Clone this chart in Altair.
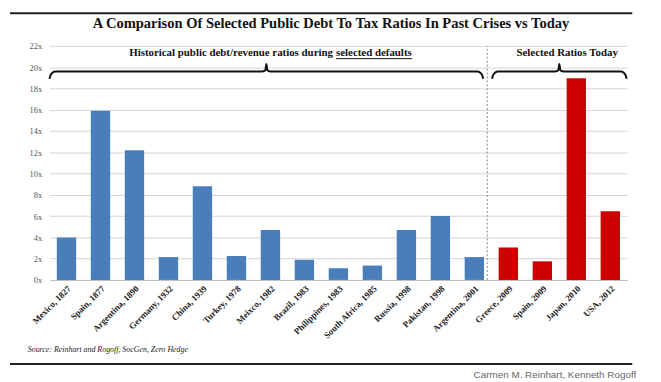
import altair as alt
import pandas as pd

categories = ["Mexico, 1827", "Spain, 1877", "Argentina, 1890", "Germany, 1932",
              "China, 1939", "Turkey, 1978", "Meixco, 1982", "Brazil, 1983",
              "Philippines, 1983", "South Africa, 1985", "Russia, 1998",
              "Pakistan, 1998", "Argentina, 2001", "Greece, 2009", "Spain, 2009",
              "Japan, 2010", "USA, 2012"]
ratios = [4.0, 15.9, 12.2, 2.15, 8.8, 2.25, 4.7, 1.9, 1.1, 1.35, 4.7, 6.0,
          2.15, 3.05, 1.75, 18.95, 6.45]
groups = ["Historical"] * 13 + ["Today"] * 4
y_ticks = [0, 2, 4, 6, 8, 10, 12, 14, 16, 18, 20, 22]

title_text = "A Comparison Of Selected Public Debt To Tax Ratios In Past Crises vs Today"
left_label_a = "Historical public debt/revenue ratios during"
left_label_b = "selected defaults"
right_label = "Selected Ratios Today"
source_text = "Source: Reinhart and Rogoff, SocGen, Zero Hedge"
credit_text = "Carmen M. Reinhart, Kenneth Rogoff"

# bracket spans in category-index units
bracket_spans = [(-0.5, 12.26), (12.52, 16.48)]
divider_at = 12.38

W, H = 585, 237
SERIF = "Liberation Serif"

df = pd.DataFrame({"country": categories, "ratio": ratios, "group": groups})

xq = alt.Scale(domain=[-0.5, 16.5], nice=False, zero=False)
yscale = alt.Scale(domain=[0, 22], nice=False)
y_axis = alt.Axis(title=None, values=y_ticks, labelExpr="datum.value + 'x'",
                  labelFont=SERIF, labelFontSize=8.5, labelColor="#555",
                  ticks=False, domain=False, gridColor="#d4d4d4",
                  labelPadding=8, labelOverlap=False)

bars = alt.Chart(df).mark_bar().encode(
    x=alt.X("country:N", sort=categories,
            scale=alt.Scale(paddingInner=0.43, paddingOuter=0.215),
            axis=alt.Axis(title=None, labelAngle=-45, labelFont=SERIF, labelFontSize=9,
                          labelFontWeight="bold", labelColor="#222", ticks=False,
                          domainColor="#bfbfbf", labelPadding=4, labelOverlap=False)),
    y=alt.Y("ratio:Q", scale=yscale, axis=y_axis),
    color=alt.Color("group:N", scale=alt.Scale(domain=["Historical", "Today"],
                                               range=["#4A7EBB", "#CC0000"]),
                    legend=None),
)


def bracket_points(x0, x1, ybar=19.6, yend=18.9, ypeak=20.3):
    mid = (x0 + x1) / 2
    xs = [x0, x0 + 0.04, x0 + 0.16, mid - 0.14, mid - 0.03, mid, mid + 0.03,
          mid + 0.14, x1 - 0.16, x1 - 0.04, x1]
    ys = [yend, ybar - 0.3, ybar, ybar, ybar + 0.1, ypeak, ybar + 0.1, ybar, ybar,
          ybar - 0.3, yend]
    return xs, ys


rows = []
for b, (a, c) in enumerate(bracket_spans):
    xs, ys = bracket_points(a, c)
    for k, (xv, yv) in enumerate(zip(xs, ys)):
        rows.append({"b": b, "k": k, "xi": xv, "yv": yv})
bdf = pd.DataFrame(rows)

brackets = alt.Chart(bdf).mark_line(color="#111", strokeWidth=2, interpolate="monotone").encode(
    x=alt.X("xi:Q", scale=xq, axis=None),
    y=alt.Y("yv:Q", scale=yscale, axis=y_axis),
    detail="b:N",
    order="k:Q",
)

divider = alt.Chart(pd.DataFrame({"xi": [divider_at], "y0": [0], "y1": [22]})).mark_rule(
    color="#888", strokeDash=[2, 2], strokeWidth=1).encode(
    x=alt.X("xi:Q", scale=xq, axis=None),
    y=alt.Y("y0:Q", scale=yscale, axis=y_axis),
    y2="y1:Q",
)

lbl = pd.DataFrame({
    "xi": [7.84, 7.93, 14.73],
    "yv": [21.3, 21.3, 21.3],
    "t": [left_label_a, left_label_b, right_label],
})


def label_layer(row, align):
    return alt.Chart(lbl.iloc[[row]]).mark_text(
        font=SERIF, fontSize=11, fontWeight="bold", align=align, color="#111").encode(
        x=alt.X("xi:Q", scale=xq, axis=None),
        y=alt.Y("yv:Q", scale=yscale, axis=y_axis),
        text="t:N")


lbl_a = label_layer(0, "right")
lbl_b = label_layer(1, "left")
lbl_c = label_layer(2, "center")
underline = alt.Chart(pd.DataFrame({"x0": [7.93], "x1": [10.17], "yv": [20.8]})).mark_rule(
    color="#111", strokeWidth=1).encode(
    x=alt.X("x0:Q", scale=xq, axis=None), x2="x1:Q",
    y=alt.Y("yv:Q", scale=yscale, axis=y_axis))

tdf = pd.DataFrame({"t": [title_text]})
title = alt.Chart(tdf).mark_text(font=SERIF, fontSize=14.7, fontWeight="bold",
                                 align="center", color="#111").encode(
    x=alt.value(285), y=alt.value(-22), text="t:N")
top_line = alt.Chart(tdf).mark_rule(color="#222", strokeWidth=2).encode(
    x=alt.value(-40), x2=alt.value(590), y=alt.value(-33))
source = alt.Chart(pd.DataFrame({"t": [source_text]})).mark_text(
    font=SERIF, fontSize=8, fontStyle="italic", align="left", color="#222").encode(
    x=alt.value(-22), y=alt.value(308), text="t:N")
bottom_line = alt.Chart(tdf).mark_rule(color="#222", strokeWidth=2).encode(
    x=alt.value(-40), x2=alt.value(590), y=alt.value(322))
credit = alt.Chart(pd.DataFrame({"t": [credit_text]})).mark_text(
    font="Liberation Sans", fontSize=10, align="right", color="#666").encode(
    x=alt.value(594), y=alt.value(333), text="t:N")

chart = alt.layer(
    bars, divider, brackets, lbl_a, lbl_b, lbl_c, underline,
    title, top_line, source, bottom_line, credit
).resolve_scale(x="independent").properties(
    width=W, height=H,
    autosize=alt.AutoSizeParams(type="none"),
    padding={"left": 42, "top": 36, "right": 26, "bottom": 101},
).configure_view(stroke=None)

chart.save("out.html", embed_options={"renderer": "svg", "actions": False})
